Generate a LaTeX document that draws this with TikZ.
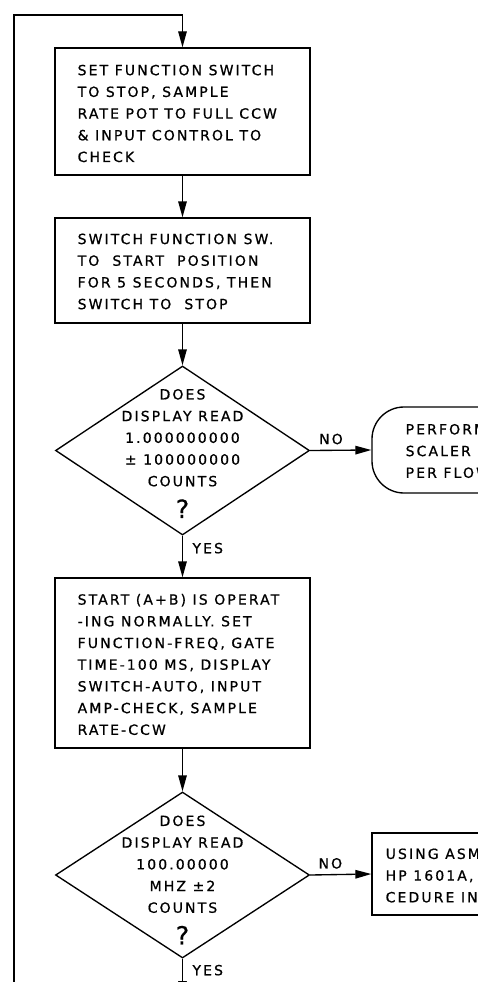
\documentclass[tikz,border=0pt]{standalone}
\usepackage{fontspec}
\usepackage{tikz}
\usetikzlibrary{arrows.meta,positioning,calc,shapes.geometric}
\newfontfamily\leroy[LetterSpace=15,FakeBold=0.8]{DejaVu Sans}

\begin{document}
\begin{tikzpicture}[x=1pt,y=-1pt,line width=1.35pt,
  font=\leroy\fontsize{14}{21.7}\selectfont,
  >={Triangle[length=16pt,width=8.5pt]},
  procbox/.style={draw,rectangle,minimum width=255pt,inner sep=0pt},
  decide/.style={draw,diamond,minimum width=254pt,inner sep=0pt},
  txt/.style={align=left,inner sep=0pt,anchor=west},
  ctxt/.style={align=center,inner sep=0pt},
  flow/.style={->}]
\useasboundingbox (0,0) rectangle (478,982);
\clip (0,0) rectangle (478,982);

\node[procbox,minimum height=127pt] (setsw) at (182.5,111.5) {};
\node[txt] (setsw txt) at (77,113.5) {SET FUNCTION SWITCH\\TO STOP, SAMPLE\\RATE POT TO FULL CCW\\\& INPUT CONTROL TO\\CHECK};

\node[procbox,minimum height=105pt] (startsw) at (182.5,270.5) {};
\node[txt] (startsw txt) at (77,271.5) {SWITCH FUNCTION SW.\\TO~~START~~POSITION\\FOR 5 SECONDS, THEN\\SWITCH TO~~STOP};

\node[decide,minimum height=169pt] (chkone) at (182.5,450.5) {};
\node[ctxt] (chkone txt) at (182.5,453.5) {DOES\\DISPLAY READ\\1.000000000\\± 100000000\\COUNTS\\[10pt]{\fontsize{25}{25}\selectfont ?}};

\node[draw,rounded corners=32pt,minimum width=200pt,minimum height=86pt,inner sep=0pt] (perform) at (472,450) {};
\node[txt] (perform txt) at (405,451) {PERFORM\\SCALER\\PER FLOW};

\node[procbox,minimum height=170pt] (opnorm) at (182.5,663) {};
\node[txt] (opnorm txt) at (77,664.5) {START (A+B) IS OPERAT\\-ING NORMALLY. SET\\FUNCTION-FREQ, GATE\\TIME-100 MS, DISPLAY\\SWITCH-AUTO, INPUT\\AMP-CHECK, SAMPLE\\RATE-CCW};

\node[decide,minimum height=166pt] (chktwo) at (182.5,875) {};
\node[ctxt] (chktwo txt) at (182.5,880) {DOES\\DISPLAY READ\\100.00000\\MHZ ±2\\COUNTS\\[10pt]{\fontsize{25}{25}\selectfont ?}};

\node[draw,minimum width=200pt,minimum height=82pt,inner sep=0pt] (asm) at (472,874) {};
\node[txt] (asm txt) at (385,875.5) {USING ASM\\HP 1601A,\\CEDURE IN};

\coordinate (loopfoot) at (14,995);
\coordinate (loophead) at (182.5,15);
\coordinate (nextstep) at (182.5,997);

\draw[flow] (loopfoot) |- (loophead) -- (setsw);
\draw[flow] (setsw) -- (startsw);
\draw[flow] (startsw) -- (chkone);
\draw[flow] (chkone) -- node[right=6pt,pos=.3]{YES} (opnorm);
\draw[flow] (chkone.east) -- node[above=2pt,pos=.34]{NO} (perform.west);
\draw[flow] (opnorm) -- (chktwo);
\draw[flow] (chktwo.east) -- node[above=2pt,pos=.33]{NO} (asm.west);
\draw[flow] (chktwo) -- node[right=6pt,pos=.3]{YES} (nextstep);
\end{tikzpicture}
\end{document}
